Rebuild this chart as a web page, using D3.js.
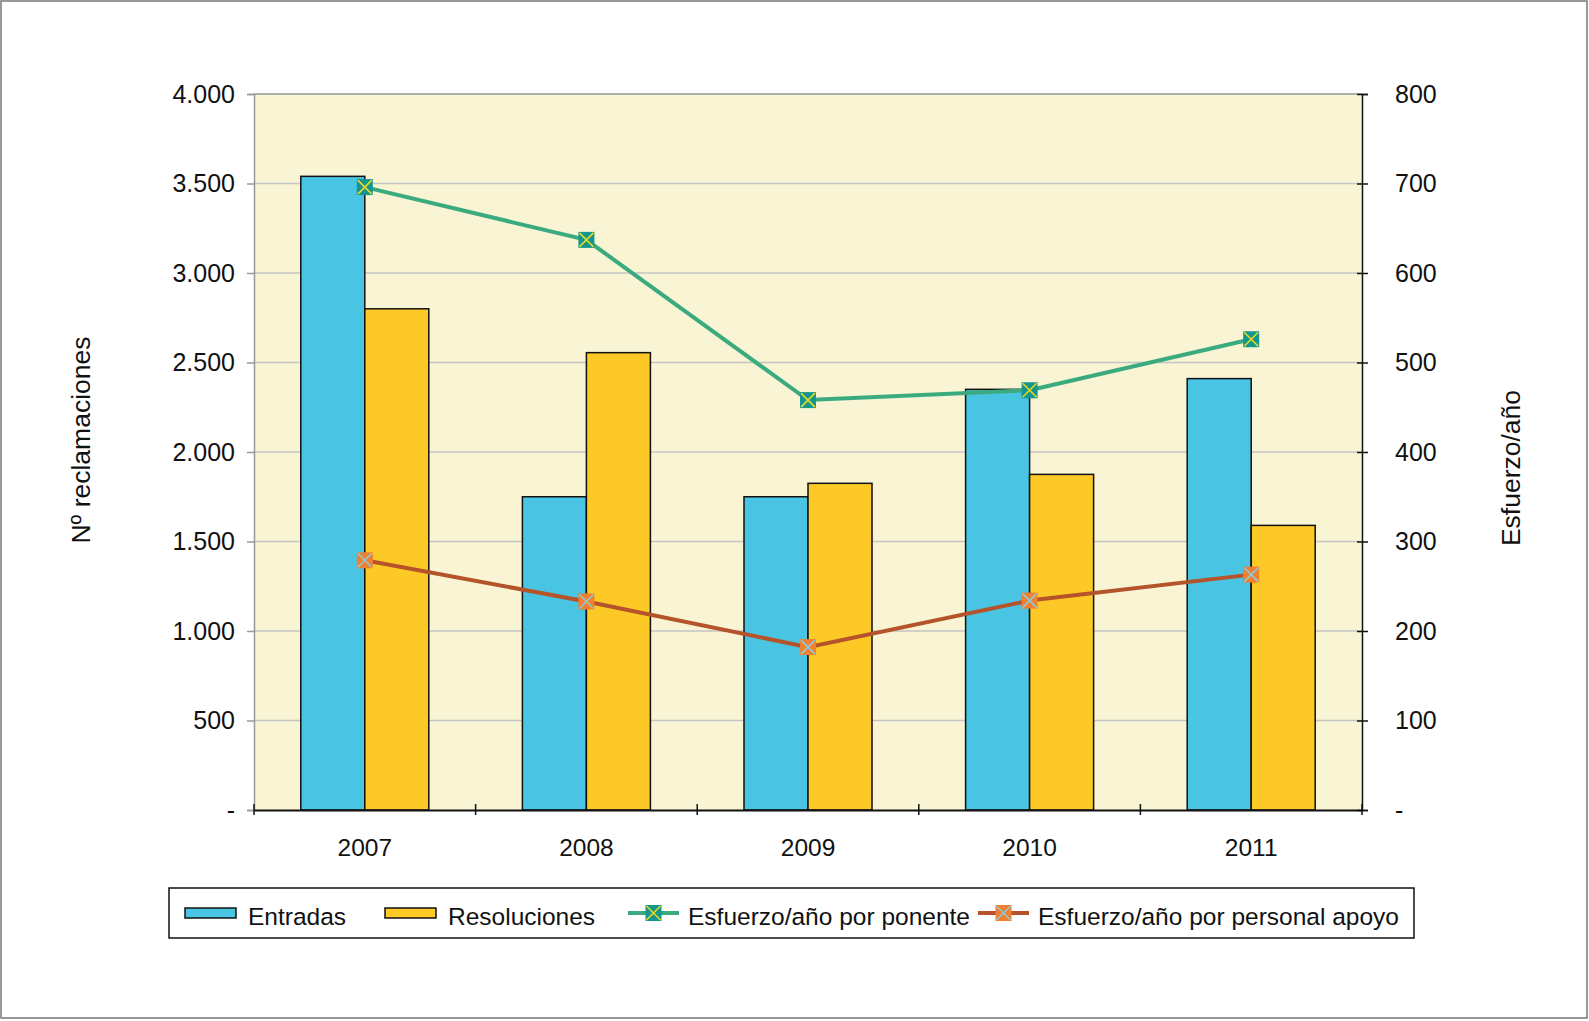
<!DOCTYPE html>
<html>
<head>
<meta charset="utf-8">
<script src="https://cdn.jsdelivr.net/npm/d3@7"></script>
<style>
  body { margin: 0; background: #fff; }
  text { font-family: "Liberation Sans", Arial, sans-serif; fill: #111; }
</style>
</head>
<body>
<div id="chart"></div>
<script>
// Data
var years = ["2007", "2008", "2009", "2010", "2011"];
var entradas = [3540, 1750, 1750, 2350, 2410];
var resoluciones = [2800, 2555, 1825, 1875, 1590];
var esfuerzoPonente = [696, 637, 458, 469, 526];
var esfuerzoApoyo = [279, 233, 182, 234, 263];
var leftTicks = [0, 500, 1000, 1500, 2000, 2500, 3000, 3500, 4000];
var rightTicks = [0, 100, 200, 300, 400, 500, 600, 700, 800];

var svgWidth = 1589;
var svgHeight = 1021;

var margin = { top: 94, right: 227, bottom: 211, left: 254 };
var chartWidth = svgWidth - margin.left - margin.right;
var chartHeight = svgHeight - margin.top - margin.bottom;

var svg = d3.select("#chart")
  .append("svg")
  .attr("width", svgWidth)
  .attr("height", svgHeight);

// outer frame
svg.append("rect")
  .attr("x", 1).attr("y", 1)
  .attr("width", svgWidth - 3).attr("height", svgHeight - 4)
  .attr("fill", "none")
  .attr("stroke", "#777")
  .attr("stroke-width", 1.5);

var chartGroup = svg.append("g")
  .attr("transform", `translate(${margin.left}, ${margin.top})`);

// scales
var xScale = d3.scaleBand().domain(years).range([0, chartWidth]);
var xInner = d3.scaleBand().domain(["e", "r"]).range([0, 128])
  .paddingInner(0);
var yLeft = d3.scaleLinear().domain([0, 4000]).range([chartHeight, 0]);
var yRight = d3.scaleLinear().domain([0, 800]).range([chartHeight, 0]);

// plot background
chartGroup.append("rect")
  .attr("width", chartWidth).attr("height", chartHeight)
  .attr("fill", "#f8f4d4");

// gridlines
chartGroup.selectAll(".grid")
  .data(leftTicks.slice(1))
  .enter()
  .append("line")
  .attr("x1", 0).attr("x2", chartWidth)
  .attr("y1", d => yLeft(d)).attr("y2", d => yLeft(d))
  .attr("stroke", d => d === 4000 ? "#999" : "#c4c4c4")
  .attr("stroke-width", 1.5);

var fmtLeft = function (d) { return d === 0 ? "-" : d3.format(",")(d).replace(",", "."); };
var fmtRight = function (d) { return d === 0 ? "-" : d; };

// left axis
var leftAxis = chartGroup.append("g")
  .call(d3.axisLeft(yLeft).tickValues(leftTicks).tickFormat(fmtLeft).tickSize(7).tickPadding(12));
leftAxis.select(".domain").attr("stroke", "#999").attr("stroke-width", 1.5);
leftAxis.selectAll(".tick line").attr("stroke", "#999").attr("stroke-width", 1.5);
leftAxis.selectAll("text").attr("font-size", 25).attr("fill", "#111");

// bars
var groups = chartGroup.selectAll(".year")
  .data(years)
  .enter()
  .append("g")
  .attr("transform", d => `translate(${xScale(d) + xScale.bandwidth() / 2 - 64}, 0)`);

groups.append("rect")
  .attr("x", xInner("e"))
  .attr("y", (d, i) => yLeft(entradas[i]))
  .attr("width", xInner.bandwidth())
  .attr("height", (d, i) => chartHeight - yLeft(entradas[i]))
  .attr("fill", "#49c5e3")
  .attr("stroke", "#111")
  .attr("stroke-width", 1.5);

groups.append("rect")
  .attr("x", xInner("r"))
  .attr("y", (d, i) => yLeft(resoluciones[i]))
  .attr("width", xInner.bandwidth())
  .attr("height", (d, i) => chartHeight - yLeft(resoluciones[i]))
  .attr("fill", "#fdc926")
  .attr("stroke", "#111")
  .attr("stroke-width", 1.5);

// right axis
var rightAxis = chartGroup.append("g")
  .attr("transform", `translate(${chartWidth}, 0)`)
  .call(d3.axisRight(yRight).tickValues(rightTicks).tickFormat(fmtRight).tickSize(6).tickPadding(27));
rightAxis.select(".domain").attr("stroke", "#111").attr("stroke-width", 1.5);
rightAxis.selectAll(".tick line").attr("x1", -5).attr("stroke", "#111").attr("stroke-width", 1.5);
rightAxis.selectAll("text").attr("font-size", 25).attr("fill", "#111");

// bottom axis
var bottomAxis = chartGroup.append("g")
  .attr("transform", `translate(0, ${chartHeight})`)
  .call(d3.axisBottom(xScale).tickSize(0).tickPadding(29));
bottomAxis.select(".domain").attr("stroke", "#111").attr("stroke-width", 2);
bottomAxis.selectAll("text").attr("font-size", 24.5).attr("fill", "#111");
bottomAxis.selectAll(".sep")
  .data(d3.range(years.length + 1))
  .enter()
  .append("line")
  .attr("x1", d => d * xScale.step()).attr("x2", d => d * xScale.step())
  .attr("y1", -6).attr("y2", 5)
  .attr("stroke", "#111").attr("stroke-width", 1.5);

// lines
var xCenter = function (d, i) { return xScale(years[i]) + xScale.bandwidth() / 2; };

var series = [
  { values: esfuerzoPonente, line: "#3bab7f", fill: "#14968f", cross: "#e8d820" },
  { values: esfuerzoApoyo, line: "#b5532a", fill: "#f0802f", cross: "#90c8d6" }
];

function drawMarker(sel, s) {
  sel.append("rect")
    .attr("x", -8).attr("y", -8).attr("width", 16).attr("height", 16)
    .attr("fill", s.fill);
  sel.append("path")
    .attr("d", "M-7,-7L7,7M7,-7L-7,7")
    .attr("stroke", s.cross).attr("stroke-width", 1.6);
}

series.forEach(function (s) {
  var line = d3.line()
    .x(xCenter)
    .y(d => yRight(d));
  chartGroup.append("path")
    .datum(s.values)
    .attr("d", line)
    .attr("fill", "none")
    .attr("stroke", s.line)
    .attr("stroke-width", 4);
  chartGroup.selectAll(null)
    .data(s.values)
    .enter()
    .append("g")
    .attr("transform", (d, i) => `translate(${xCenter(d, i)}, ${yRight(d)})`)
    .each(function () { drawMarker(d3.select(this), s); });
});

// axis titles
svg.append("text")
  .attr("transform", "translate(90, 440) rotate(-90)")
  .attr("text-anchor", "middle")
  .attr("font-size", 26.5)
  .text("Nº reclamaciones");

svg.append("text")
  .attr("transform", "translate(1520, 468) rotate(-90)")
  .attr("text-anchor", "middle")
  .attr("font-size", 26.5)
  .text("Esfuerzo/año");

// legend
var legend = svg.append("g");
legend.append("rect")
  .attr("x", 169).attr("y", 888)
  .attr("width", 1245).attr("height", 50)
  .attr("fill", "#fff")
  .attr("stroke", "#111")
  .attr("stroke-width", 1.5);

var legendY = 913;
legend.append("rect")
  .attr("x", 185).attr("y", legendY - 5).attr("width", 51).attr("height", 10)
  .attr("fill", "#49c5e3").attr("stroke", "#111").attr("stroke-width", 1.5);
legend.append("text").attr("x", 248).attr("y", legendY + 12).attr("font-size", 24.5).text("Entradas");

legend.append("rect")
  .attr("x", 385).attr("y", legendY - 5).attr("width", 51).attr("height", 10)
  .attr("fill", "#fdc926").attr("stroke", "#111").attr("stroke-width", 1.5);
legend.append("text").attr("x", 448).attr("y", legendY + 12).attr("font-size", 24.5).text("Resoluciones");

var legendLines = [
  { x: 628, tx: 688, label: "Esfuerzo/año por ponente", s: series[0] },
  { x: 978, tx: 1038, label: "Esfuerzo/año por personal apoyo", s: series[1] }
];
legendLines.forEach(function (l) {
  legend.append("line")
    .attr("x1", l.x).attr("x2", l.x + 51)
    .attr("y1", legendY).attr("y2", legendY)
    .attr("stroke", l.s.line).attr("stroke-width", 4);
  var m = legend.append("g").attr("transform", `translate(${l.x + 25.5}, ${legendY})`);
  drawMarker(m, l.s);
  legend.append("text").attr("x", l.tx).attr("y", legendY + 12).attr("font-size", 24.5).text(l.label);
});
</script>
</body>
</html>
